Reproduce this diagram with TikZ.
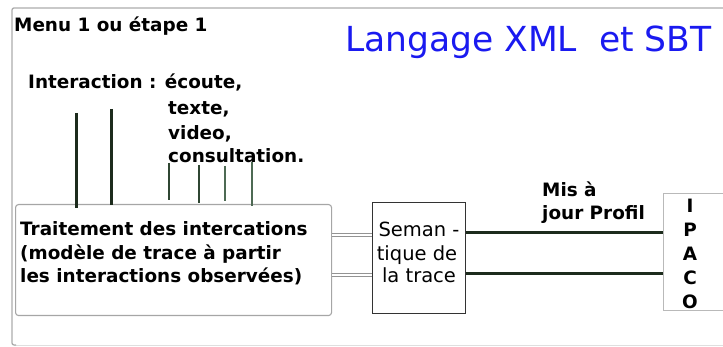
\documentclass[tikz,border=0pt]{standalone}
\usepackage{fontspec}
\setmainfont{DejaVu Sans}
\definecolor{darkline}{HTML}{1C2B1C}
\definecolor{midline}{HTML}{2F4632}
\definecolor{lightline}{HTML}{4E6A54}
\definecolor{titleblue}{HTML}{1A1AF0}
\tikzset{
  lbl/.style={inner sep=0pt, anchor=base west, font=\fontsize{18.4}{22}\selectfont\bfseries},
  clbl/.style={inner sep=0pt, anchor=base, font=\fontsize{18.4}{22}\selectfont\bfseries},
  sem/.style={inner sep=0pt, anchor=base, font=\fontsize{19.5}{22}\selectfont},
  probe/.style={line width=3pt, draw=darkline},
  probethin/.style={line width=2.4pt, draw=midline},
  link/.style={line width=3pt, draw=darkline},
  hollow/.style={draw=gray!85, double=white, double distance=2.2pt, line width=1pt},
}
\begin{document}
\begin{tikzpicture}[x=1pt,y=-1pt]
\useasboundingbox (0,0) rectangle (723,347);
% outer frame
\draw[gray!25, line width=0.8pt] (14,345) -- (723,345);
\draw[gray!65, line width=1.3pt, rounded corners=2pt] (723,8) -- (12,8) -- (12,345) -- (16,345);
% texts top
\node[lbl] (menu) at (14,32) {Menu 1 ou étape 1};
\node[inner sep=0pt, anchor=base west, text=titleblue, font=\fontsize{34.5}{40}\selectfont] (title) at (345,52) {Langage XML\ \ et SBT};
\node[lbl] (int1) at (28,89) {Interaction : écoute,};
\node[lbl] (int2) at (168,115) {texte,};
\node[lbl] (int3) at (168,140) {video,};
\node[lbl] (int4) at (168,163) {consultation.};
% boxes
\node[draw=gray!70, line width=1.1pt, rounded corners=3pt, fill=white, minimum width=316pt, minimum height=111pt, inner sep=0pt, anchor=north west] (trait) at (15,204) {};
\node[draw=black!80, line width=1pt, minimum width=93pt, minimum height=111pt, inner sep=0pt, anchor=north west] (seman) at (372,202) {};
\node[draw=gray!55, line width=0.9pt, minimum width=70pt, minimum height=117pt, inner sep=0pt, anchor=north west] (ipaco) at (663,193) {};
% probes
\coordinate (p1t) at (76,113);
\coordinate (p2t) at (111,109);
\coordinate (p3t) at (169,163);
\coordinate (p4t) at (199,165);
\coordinate (p5t) at (225,166);
\coordinate (p6t) at (252,162);
\draw[probe] (p1t) -- (76,208);
\draw[probe] (p2t) -- (111,205);
\draw[probethin] (p3t) -- (169,200);
\draw[probethin] (p4t) -- (199,203);
\draw[line width=2pt, draw=lightline] (p5t) -- (225,201);
\draw[line width=2pt, draw=lightline] (p6t) -- (252,206);
% texts in boxes
\node[lbl] (tr1) at (20,236) {Traitement des intercations};
\node[lbl] (tr2) at (20,260) {(modèle de trace à partir};
\node[lbl] (tr3) at (20,283) {les interactions observées)};
\node[sem] (s1) at (419,237) {Seman -};
\node[sem] (s2) at (417,261) {tique de};
\node[sem] (s3) at (419,283) {la trace};
\node[lbl] (mis1) at (542,197) {Mis à};
\node[lbl] (mis2) at (542,220) {jour Profil};
\node[clbl] (l1) at (690,213) {I};
\node[clbl] (l2) at (690,237) {P};
\node[clbl] (l3) at (690,261) {A};
\node[clbl] (l4) at (690,285) {C};
\node[clbl] (l5) at (690,309) {O};
% connectors
\draw[hollow] (trait.east |- 0,235) -- (seman.west |- 0,235);
\draw[hollow] (trait.east |- 0,275) -- (seman.west |- 0,275);
\draw[link] (seman.east |- 0,233) -- (ipaco.west |- 0,233);
\draw[link] (seman.east |- 0,274) -- (ipaco.west |- 0,274);
\end{tikzpicture}
\end{document}
